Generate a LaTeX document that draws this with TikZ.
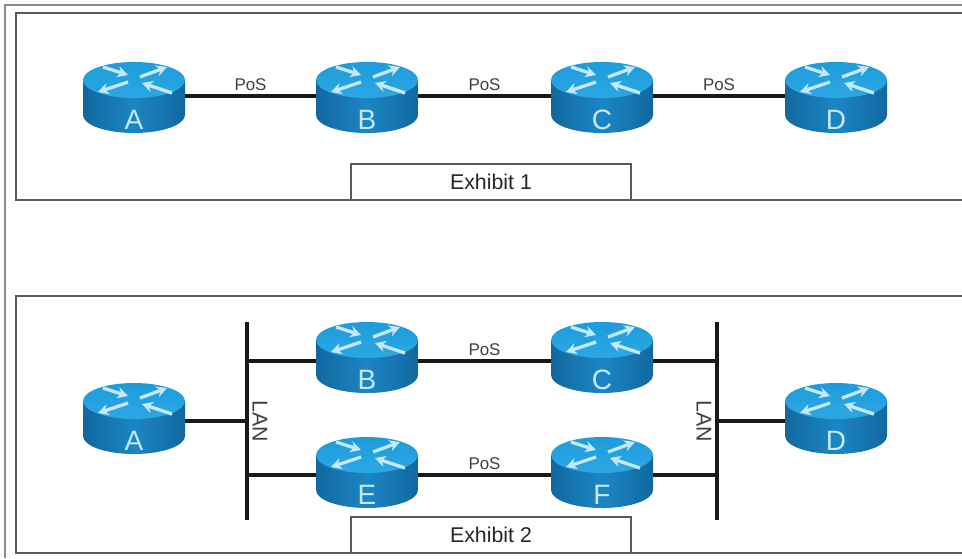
\documentclass[tikz,border=0pt]{standalone}
\usepackage{fontspec}
\setmainfont{Liberation Sans}
\usetikzlibrary{arrows.meta}
\definecolor{rtop}{HTML}{1E9BDA}
\definecolor{rtoplight}{HTML}{2BA8E4}
\definecolor{rside}{HTML}{1B86C4}
\definecolor{rdark}{HTML}{12689F}
\definecolor{rlight}{HTML}{C4E8F7}
\definecolor{framegray}{HTML}{5A5A5A}
\tikzset{
  x=0.75pt,y=-0.75pt,
  panel/.style={draw=framegray,line width=1.2pt},
  outerframe/.style={draw=black!45,line width=1.8pt},
  exhibit/.style={draw=framegray,line width=1.2pt,fill=white},
  wire/.style={draw=black!90,line width=2.3pt},
  routerbox/.style={minimum width=76.5pt,minimum height=51pt,inner sep=0pt,outer sep=0pt},
  routerletter/.style={text=rlight,font=\fontsize{21}{21}\selectfont,inner sep=0pt},
  linktext/.style={font=\fontsize{12.7}{14}\selectfont,text=black!75,inner sep=0pt},
  lantext/.style={font=\fontsize{16}{18}\selectfont,text=black!75,inner sep=0pt},
  exhibittext/.style={font=\fontsize{16}{18}\selectfont,text=black!85,inner sep=0pt},
  arr/.style={draw=rlight,line width=2.5pt,-{Stealth[length=8pt,width=8.5pt]}},
}
% #1 node name, #2 x, #3 y of the top-face centre, #4 letter, #5 wire offset
\newcommand{\router}[5]{%
  \path[left color=rdark,right color=rdark,middle color=rside]
    (#2-51,#3) -- ++(0,35) arc[start angle=180,end angle=0,x radius=51,y radius=18]
    -- ++(0,-35) -- cycle;
  \path[top color=rtop,bottom color=rtoplight] (#2,#3) ellipse[x radius=51,y radius=18];
  \begin{scope}[shift={(#2,#3)}]
    \draw[arr] (-31,-13) -- (-6,-5);
    \draw[arr] (6,-3) -- (33,-13);
    \draw[arr] (-6,2) -- (-36,12);
    \draw[arr] (38,13) -- (8,3);
  \end{scope}
  \node[routerbox] (#1) at (#2,#3+#5) {};
  \node[routerletter] (#1letter) at (#2,#3+40) {#4};
}
\begin{document}
\begin{tikzpicture}
\useasboundingbox (0,0) rectangle (962,558);
\fill[white] (0,0) rectangle (962,558);
\draw[outerframe] (962,5) -- (5,5) -- (5,558);
\draw[panel] (962,13) -- (16,13) -- (16,200) -- (962,200);
\draw[panel] (962,296) -- (16,296) -- (16,553) -- (962,553);
% top panel
\router{ta}{134}{80}{A}{16}
\router{tb}{367}{80}{B}{16}
\router{tc}{602}{80}{C}{16}
\router{td}{836}{80}{D}{16}
\draw[wire] (ta.east) -- node[linktext,above=3pt] (pos1) {PoS} (tb.west);
\draw[wire] (tb.east) -- node[linktext,above=3pt] (pos2) {PoS} (tc.west);
\draw[wire] (tc.east) -- node[linktext,above=3pt] (pos3) {PoS} (td.west);
\node[exhibit,minimum width=210pt,minimum height=27pt,inner sep=0pt] (ex1) at (491,182) {};
\node[exhibittext] (ex1t) at (491,182) {Exhibit 1};
% bottom panel
\router{ba}{134}{401}{A}{20}
\router{bb}{367}{340}{B}{21}
\router{bc}{602}{340}{C}{21}
\router{be}{367}{455}{E}{20}
\router{bf}{602}{455}{F}{20}
\router{bd}{836}{401}{D}{20}
\coordinate (lantop) at (247,322);
\coordinate (lanbot) at (247,520);
\coordinate (rantop) at (717,322);
\coordinate (ranbot) at (717,520);
\draw[wire] (lantop) -- (lanbot);
\draw[wire] (rantop) -- (ranbot);
\draw[wire] (ba.east) -- (ba.east -| lantop);
\draw[wire] (bd.west) -- (bd.west -| rantop);
\draw[wire] (bb.west) -- (bb.west -| lantop);
\draw[wire] (be.west) -- (be.west -| lantop);
\draw[wire] (bc.east) -- (bc.east -| rantop);
\draw[wire] (bf.east) -- (bf.east -| rantop);
\draw[wire] (bb.east) -- node[linktext,above=3pt] (pos4) {PoS} (bc.west);
\draw[wire] (be.east) -- node[linktext,above=3pt] (pos5) {PoS} (bf.west);
\node[lantext,rotate=-90] (lan1) at (260,421) {LAN};
\node[lantext,rotate=-90] (lan2) at (704,421) {LAN};
\node[exhibit,minimum width=210pt,minimum height=27pt,inner sep=0pt] (ex2) at (491,535) {};
\node[exhibittext] (ex2t) at (491,535) {Exhibit 2};
\end{tikzpicture}
\end{document}
